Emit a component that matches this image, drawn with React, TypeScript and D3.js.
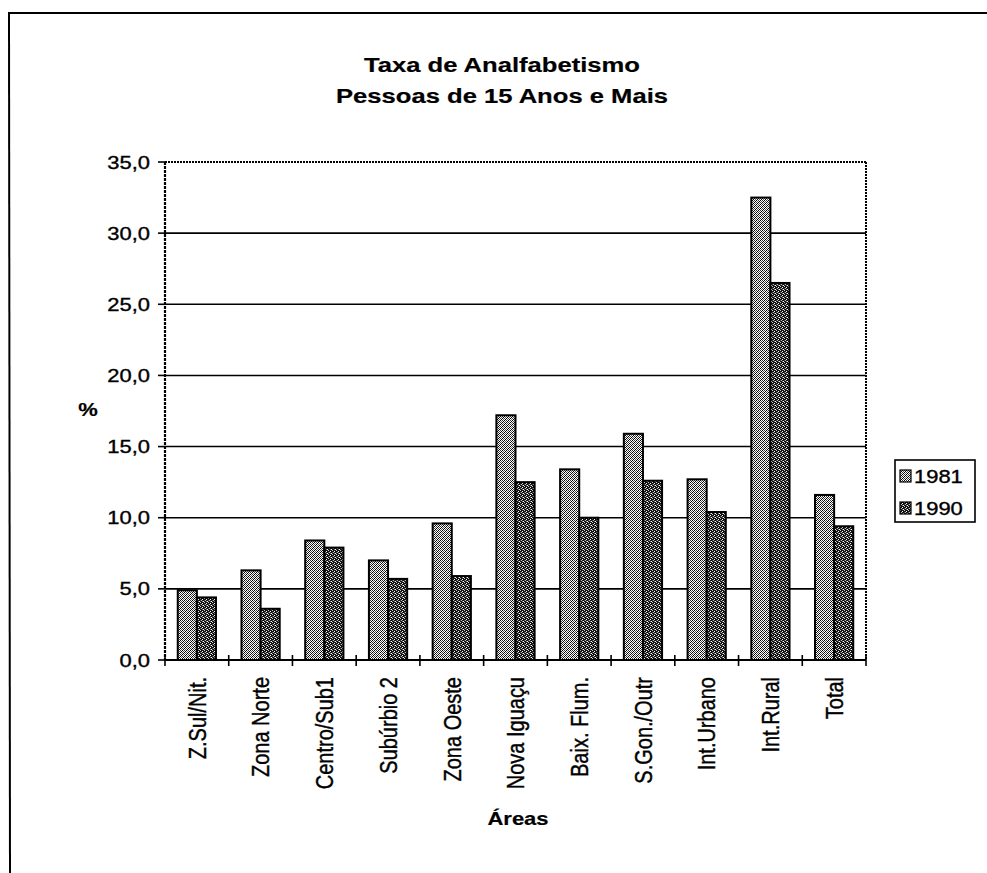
import React from "react";
import * as d3 from "d3";

// Illiteracy rate, people aged 15 and over, by area (%)
const categories = [
  "Z.Sul/Nit.",
  "Zona Norte",
  "Centro/Sub1",
  "Subúrbio 2",
  "Zona Oeste",
  "Nova Iguaçu",
  "Baix. Flum.",
  "S.Gon./Outr",
  "Int.Urbano",
  "Int.Rural",
  "Total",
];
const years = ["1981", "1990"];
const values1981 = [4.9, 6.3, 8.4, 7.0, 9.6, 17.2, 13.4, 15.9, 12.7, 32.5, 11.6];
const values1990 = [4.4, 3.6, 7.9, 5.7, 5.9, 12.5, 10.0, 12.6, 10.4, 26.5, 9.4];
const yTicks = [0, 5, 10, 15, 20, 25, 30, 35];
const titleLines = ["Taxa de Analfabetismo", "Pessoas de 15 Anos e Mais"];

const W = 987;
const H = 873;
const plot = { left: 165, right: 866, top: 162, bottom: 660 };
const FONT = "'Liberation Sans', Arial, Helvetica, sans-serif";
const SX = 1.22; // glyphs are drawn a little wider than tall

const fmt = (v: number) => v.toFixed(1).replace(".", ",");

function SText(props: {
  x: number;
  y: number;
  size: number;
  anchor?: "start" | "middle" | "end";
  bold?: boolean;
  rotate?: boolean;
  dy?: string;
  children: React.ReactNode;
}) {
  const { x, y, size, anchor = "start", bold, rotate, dy, children } = props;
  return (
    <text
      transform={`translate(${x},${y}) scale(${SX},1)${rotate ? " rotate(-90)" : ""}`}
      textAnchor={anchor}
      fontSize={size}
      fontWeight={bold ? "bold" : "normal"}
      fontFamily={FONT}
      dy={dy}
      fill="#000"
      stroke="#000"
      strokeWidth={bold ? 0.2 : 0.35}
    >
      {children}
    </text>
  );
}

export default function App() {
  const x0 = d3
    .scaleBand<string>()
    .domain(categories)
    .range([plot.left, plot.right])
    .paddingInner(0.4)
    .paddingOuter(0.2);
  const x1 = d3.scaleBand<string>().domain(years).range([0, x0.bandwidth()]);
  const y = d3.scaleLinear().domain([0, 35]).range([plot.bottom, plot.top]);

  const series = [
    { year: years[0], values: values1981, fill: "url(#pat1981)" },
    { year: years[1], values: values1990, fill: "url(#pat1990)" },
  ];

  const step = x0.step();
  const boundaries = d3.range(categories.length + 1).map((i) => plot.left + i * step);

  return (
    <svg
      width={W}
      height={H}
      viewBox={`0 0 ${W} ${H}`}
      style={{ position: "absolute", left: 0, top: 0, background: "#fff" }}
    >
      <defs>
        <pattern id="pat1981" width="4" height="4" patternUnits="userSpaceOnUse">
          <rect width="4" height="4" fill="#fff" />
          <rect x="0" y="0" width="1" height="1" fill="#000" />
          <rect x="2" y="0" width="1" height="1" fill="#333" />
          <rect x="1" y="1" width="1" height="1" fill="#555" />
          <rect x="3" y="1" width="1" height="1" fill="#000" />
          <rect x="0" y="2" width="1" height="1" fill="#333" />
          <rect x="2" y="2" width="1" height="1" fill="#000" />
          <rect x="1" y="3" width="1" height="1" fill="#000" />
          <rect x="3" y="3" width="1" height="1" fill="#555" />
        </pattern>
        <pattern id="pat1990" width="4" height="4" patternUnits="userSpaceOnUse">
          <rect width="4" height="4" fill="#111" />
          <rect x="1" y="0" width="1" height="1" fill="#bbb" />
          <rect x="3" y="1" width="1" height="1" fill="#fff" />
          <rect x="0" y="2" width="1" height="1" fill="#ccc" />
          <rect x="2" y="3" width="1" height="1" fill="#fff" />
          <rect x="2" y="1" width="1" height="1" fill="#777" />
          <rect x="0" y="0" width="1" height="1" fill="#444" />
        </pattern>
      </defs>

      {/* outer frame (top and left edges) */}
      <line x1={8} x2={W} y1={13} y2={13} stroke="#000" strokeWidth={2} />
      <line x1={9} x2={10} y1={13} y2={H} stroke="#000" strokeWidth={2} />

      {/* title */}
      {titleLines.map((t, i) => (
        <SText key={t} x={502} y={72 + i * 31} size={21} anchor="middle" bold>
          {t}
        </SText>
      ))}

      {/* horizontal gridlines */}
      {yTicks
        .filter((v) => v > 0 && v < 35)
        .map((v) => (
          <line
            key={v}
            x1={plot.left}
            x2={plot.right}
            y1={y(v)}
            y2={y(v)}
            stroke="#000"
            strokeWidth={1.6}
          />
        ))}

      {/* plot area border: dotted top and right */}
      <line
        x1={plot.left}
        x2={plot.right}
        y1={y(35)}
        y2={y(35)}
        stroke="#000"
        strokeWidth={2}
        strokeDasharray="2 1"
      />
      <line
        x1={plot.right}
        x2={plot.right}
        y1={plot.top}
        y2={plot.bottom}
        stroke="#000"
        strokeWidth={2}
        strokeDasharray="2 1"
      />

      {/* bars */}
      {series.map((s) =>
        categories.map((c, i) => {
          const bx = (x0(c) ?? 0) + (x1(s.year) ?? 0);
          const by = y(s.values[i]);
          return (
            <rect
              key={s.year + c}
              x={bx}
              y={by}
              width={x1.bandwidth()}
              height={plot.bottom - by}
              fill={s.fill}
              stroke="#000"
              strokeWidth={2}
            />
          );
        })
      )}

      {/* y axis */}
      <line
        x1={plot.left}
        x2={plot.left}
        y1={plot.top}
        y2={plot.bottom}
        stroke="#000"
        strokeWidth={2.2}
        strokeDasharray="3 1"
      />
      {yTicks.map((v) => (
        <g key={v}>
          <line x1={plot.left - 7} x2={plot.left} y1={y(v)} y2={y(v)} stroke="#000" strokeWidth={1.6} />
          <SText x={150} y={y(v) + 6.5} size={18} anchor="end">
            {fmt(v)}
          </SText>
        </g>
      ))}
      <SText x={88} y={416} size={18} anchor="middle" bold>
        %
      </SText>

      {/* x axis */}
      <line x1={plot.left} x2={plot.right} y1={plot.bottom} y2={plot.bottom} stroke="#000" strokeWidth={2} />
      {boundaries.map((bx, i) => (
        <line key={i} x1={bx} x2={bx} y1={plot.bottom - 5} y2={plot.bottom + 6} stroke="#000" strokeWidth={1.6} />
      ))}
      {categories.map((c) => (
        <SText
          key={c}
          x={(x0(c) ?? 0) + x0.bandwidth() / 2}
          y={677}
          size={20}
          anchor="end"
          rotate
          dy="0.36em"
        >
          {c}
        </SText>
      ))}
      <SText x={518} y={825} size={18} anchor="middle" bold>
        Áreas
      </SText>

      {/* legend */}
      <rect x={895} y={460} width={80} height={62} fill="#fff" stroke="#000" strokeWidth={1.6} />
      {series.map((s, i) => (
        <g key={s.year}>
          <rect x={900} y={470 + i * 32} width={11} height={12} fill={s.fill} stroke="#000" strokeWidth={1.2} />
          <SText x={914} y={483 + i * 32} size={18}>
            {s.year}
          </SText>
        </g>
      ))}
    </svg>
  );
}
